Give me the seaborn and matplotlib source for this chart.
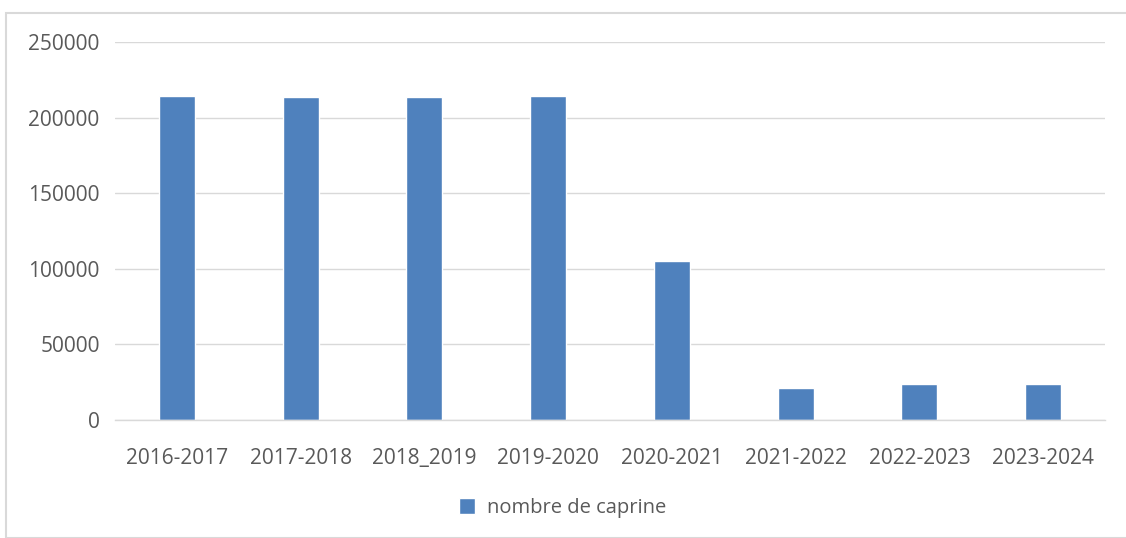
import matplotlib
matplotlib.use("Agg")
import matplotlib.pyplot as plt
import seaborn as sns
import pandas as pd
from matplotlib.patches import Rectangle

categories = ["2016-2017", "2017-2018", "2018_2019", "2019-2020",
              "2020-2021", "2021-2022", "2022-2023", "2023-2024"]
values = [214300, 213400, 213300, 214300, 105300, 21400, 23700, 23700]
series_name = "nombre de caprine"
yticks = [0, 50000, 100000, 150000, 200000, 250000]

sns.set_theme(style="white")
plt.rcParams['font.family'] = ['Open Sans', 'DejaVu Sans']

df = pd.DataFrame({"period": categories, "value": values, "series": series_name})

fig = plt.figure(figsize=(11.26, 5.38), dpi=100)
ax = fig.add_axes([115/1126, (538-420)/538, (1105-115)/1126, (420-42)/538])

sns.barplot(data=df, x="period", y="value", hue="series", palette=["#4f81bd"],
            width=0.29, ax=ax, saturation=1, legend=True)

ax.set_ylim(0, 250000)
ax.set_xlim(-0.5, len(categories) - 0.5)
ax.set_yticks(yticks)
ax.set_yticklabels([str(v) for v in yticks])
ax.yaxis.grid(True, color="#d9d9d9", linewidth=1)
ax.set_axisbelow(True)
for s in ["top", "right", "left"]:
    ax.spines[s].set_visible(False)
ax.spines["bottom"].set_color("#d9d9d9")
ax.spines["bottom"].set_linewidth(1)
ax.tick_params(axis="both", length=0, labelsize=15, labelcolor="#595959")
ax.tick_params(axis="y", pad=11)
ax.tick_params(axis="x", pad=20)
ax.set_xlabel("")
ax.set_ylabel("")

leg = ax.legend(loc="center", bbox_to_anchor=(0.5, (538-508)/538), bbox_transform=fig.transFigure,
                frameon=False, fontsize=14.5, handlelength=0.8, handleheight=0.8, handletextpad=0.6)
for t in leg.get_texts():
    t.set_color("#595959")

fig.patches.append(Rectangle((6/1126, 0), 1.2, (538-13)/538, transform=fig.transFigure,
                             fill=False, edgecolor="#d9d9d9", linewidth=1.5))

fig.savefig("out.png", dpi=100)
